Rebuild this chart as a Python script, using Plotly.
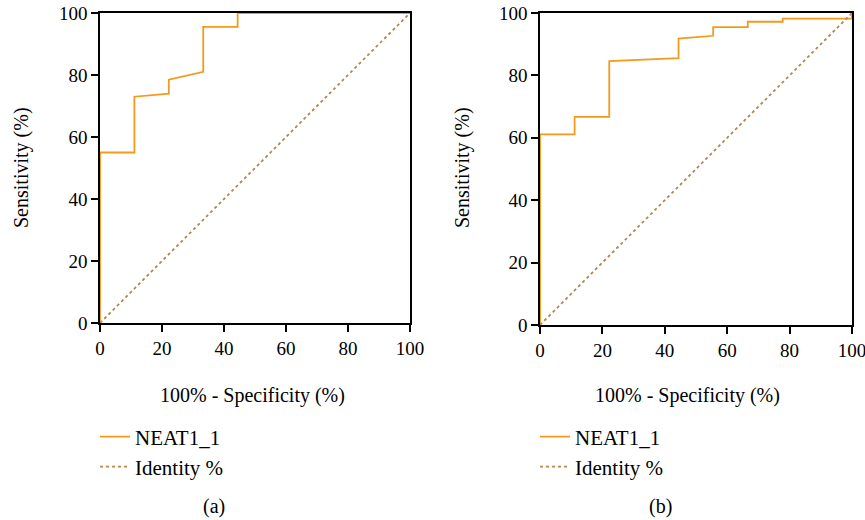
import plotly.graph_objects as go

# Panel (a) ROC curve
a_fpr = [0, 0, 11.1, 11.1, 22.2, 22.2, 33.3, 33.3, 44.4, 44.4, 100]
a_sens = [0, 55, 55, 73, 74, 78.5, 81, 95.5, 95.5, 100, 100]

# Panel (b) ROC curve
b_fpr = [0, 0, 11.1, 11.1, 22.2, 22.2, 44.4, 44.4, 55.5, 55.5, 66.6, 66.6, 77.8, 77.8, 100, 100]
b_sens = [0, 61.1, 61.1, 66.7, 66.7, 84.6, 85.5, 91.8, 92.7, 95.5, 95.5, 97.2, 97.2, 98.2, 98.2, 100]

identity = [0, 100]
ticks = [0, 20, 40, 60, 80, 100]

ORANGE = "#F39A1E"
BROWN = "#B8864B"
FONT = "Liberation Serif"
W, H = 865, 520

fig = go.Figure()

fig.add_trace(go.Scatter(x=a_fpr, y=a_sens, mode="lines", name="NEAT1_1",
                         line=dict(color=ORANGE, width=1.8), xaxis="x", yaxis="y",
                         legend="legend", showlegend=True))
fig.add_trace(go.Scatter(x=identity, y=identity, mode="lines", name="Identity %",
                         line=dict(color=BROWN, width=1.8, dash="dot"), xaxis="x", yaxis="y",
                         legend="legend2", showlegend=True))
fig.add_trace(go.Scatter(x=b_fpr, y=b_sens, mode="lines", name="NEAT1_1",
                         line=dict(color=ORANGE, width=1.8), xaxis="x2", yaxis="y2",
                         legend="legend3", showlegend=True))
fig.add_trace(go.Scatter(x=identity, y=identity, mode="lines", name="Identity %",
                         line=dict(color=BROWN, width=1.8, dash="dot"), xaxis="x2", yaxis="y2",
                         legend="legend4", showlegend=True))

def ax(domain, anchor):
    return dict(domain=domain, anchor=anchor, range=[0, 100], tickvals=ticks,
                showline=True, linecolor="black", linewidth=1.5, mirror=True,
                ticks="outside", ticklen=7, tickwidth=1.5, tickcolor="black",
                showgrid=False, zeroline=False, automargin=False,
                ticklabeloverflow="allow",
                tickfont=dict(family=FONT, size=19, color="black"))

xa = [100 / W, 410 / W]
xb = [540 / W, 852 / W]
ya = [1 - 323 / H, 1 - 13 / H]
yb = [1 - 325 / H, 1 - 13 / H]

title_font = dict(family=FONT, size=20, color="black")
leg_font = dict(family=FONT, size=21, color="black")
def leg(x, y):
    return dict(x=x / W, y=1 - y / H, xanchor="left", yanchor="middle",
                font=leg_font, bgcolor="rgba(0,0,0,0)", borderwidth=0, itemwidth=30)

def note(text, x, y, angle=0):
    return dict(text=text, x=x / W, y=1 - y / H, xref="paper", yref="paper",
                showarrow=False, font=title_font, xanchor="center", yanchor="middle",
                textangle=angle)

fig.update_layout(
    width=W, height=H,
    margin=dict(l=0, r=0, t=0, b=0),
    paper_bgcolor="white", plot_bgcolor="white",
    showlegend=True,
    xaxis=ax(xa, "y"),
    yaxis=ax(ya, "x"),
    xaxis2=ax(xb, "y2"),
    yaxis2=ax(yb, "x2"),
    legend=leg(95, 437),
    legend2=leg(95, 467),
    legend3=leg(535, 437),
    legend4=leg(535, 467),
    annotations=[
        note("Sensitivity (%)", 22, 168, -90),
        note("Sensitivity (%)", 463, 168, -90),
        note("100% - Specificity (%)", 252, 395),
        note("100% - Specificity (%)", 687, 395),
        note("(a)", 214, 506),
        note("(b)", 660, 506),
    ],
)

fig.write_html("out.html", config={"displayModeBar": False},
               post_script="document.body.style.margin='0';document.body.style.overflow='hidden';")
